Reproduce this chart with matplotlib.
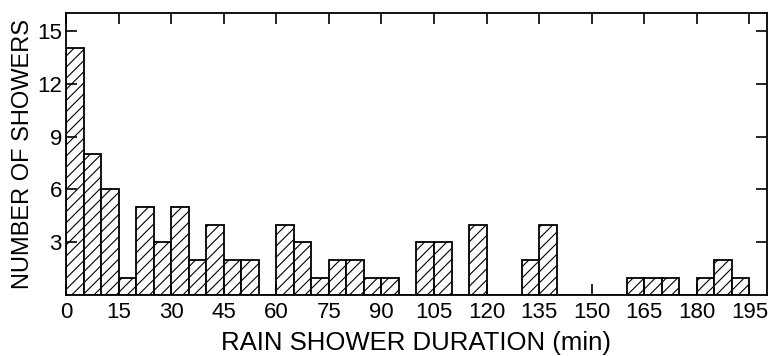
import numpy as np
import matplotlib
matplotlib.use('Agg')
import matplotlib.pyplot as plt

# 5-minute bins, 0 to 195 min
bin_edges = list(range(0, 200, 5))
counts = [14, 8, 6, 1, 5, 3, 5, 2, 4, 2, 2, 0,
          4, 3, 1, 2, 2, 1, 1, 0, 3, 3, 0, 4,
          0, 0, 2, 4, 0, 0, 0, 0, 1, 1, 1, 0,
          1, 2, 1]
x_ticks = list(range(0, 196, 15))
y_ticks = [3, 6, 9, 12, 15]

plt.rcParams['font.family'] = ['Liberation Sans', 'DejaVu Sans']
plt.rcParams['hatch.linewidth'] = 0.8

fig = plt.figure(figsize=(7.77, 3.56), dpi=100)
ax = fig.add_axes([0.085, 0.171, 0.902, 0.792])

ax.bar(bin_edges[:len(counts)], counts, width=5, align='edge',
       color='white', edgecolor='black', linewidth=1.3, hatch='///')

ax.set_xlim(0, 200)
ax.set_ylim(0, 16)
ax.set_xticks(x_ticks)
ax.set_yticks(y_ticks)
ax.tick_params(direction='in', length=8, width=1.2, top=True, right=True,
               labelsize=16)
ax.tick_params(axis='x', pad=5)
ax.tick_params(axis='y', pad=3)
for s in ax.spines.values():
    s.set_linewidth(1.3)

ax.set_xlabel('RAIN SHOWER DURATION (min)', fontsize=18.5, labelpad=6)
ax.set_ylabel('NUMBER OF SHOWERS', fontsize=17, labelpad=2)

fig.savefig('out.png', dpi=100)
